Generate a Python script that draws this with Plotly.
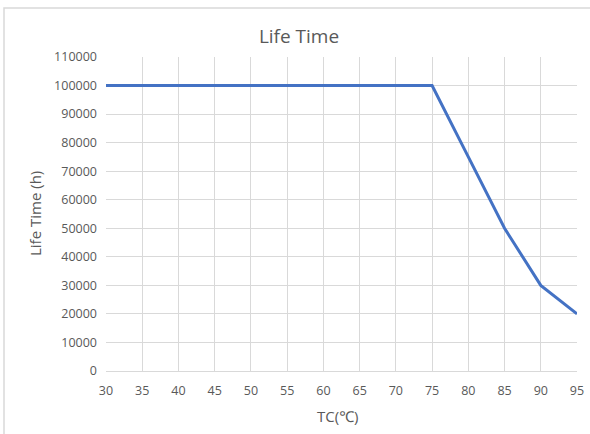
import plotly.graph_objects as go

tc = [30, 35, 40, 45, 50, 55, 60, 65, 70, 75, 80, 85, 90, 95]
life_hours = [100000, 100000, 100000, 100000, 100000, 100000, 100000, 100000, 100000, 100000, 75000, 50000, 30000, 20000]
x_ticks = list(range(30, 96, 5))
y_ticks = list(range(0, 110001, 10000))

W, H = 590, 434
L, R, T, B = 106, 13, 57, 63
pw, ph = W - L - R, H - T - B

font = "Open Sans, Noto Sans, sans-serif"
grey = "#595959"
grid = "#d9d9d9"

fig = go.Figure()
fig.add_trace(go.Scatter(x=tc, y=life_hours, mode="lines",
                         line=dict(color="#4472C4", width=3), showlegend=False))

fig.update_layout(
    width=W, height=H,
    margin=dict(l=L, r=R, t=T, b=B, autoexpand=False),
    paper_bgcolor="white", plot_bgcolor="white",
    font=dict(family=font, size=12.5, color=grey),
    title=dict(text="Life Time", x=299 / W, xanchor="center",
               y=1 - 36 / H, yanchor="middle", font=dict(size=19, color=grey)),
    xaxis=dict(range=[30, 95], tickvals=x_ticks, showgrid=True, gridcolor=grid,
               gridwidth=1, zeroline=False, showline=True, linecolor=grid,
               linewidth=1, ticks="", ticklen=0, ticklabelstandoff=8,
               tickfont=dict(size=12.5, color=grey)),
    yaxis=dict(range=[0, 110000], tickvals=y_ticks, showgrid=True, gridcolor=grid,
               gridwidth=1, zeroline=False, showline=False, ticks="",
               tickformat="d", ticklabelstandoff=8,
               tickfont=dict(size=12.5, color=grey)),
    annotations=[
        dict(text="TC(℃)", xref="paper", yref="paper",
             x=(337 - L) / pw, y=-(416 - T - ph) / ph,
             xanchor="center", yanchor="middle", showarrow=False,
             font=dict(size=15, color=grey)),
        dict(text="Life Time (h)", xref="paper", yref="paper",
             x=(35 - L) / pw, y=0.5, textangle=-90,
             xanchor="center", yanchor="middle", showarrow=False,
             font=dict(size=15, color=grey)),
    ],
)

# outer chart border (Excel-style chart area)
fig.add_shape(type="rect", xref="paper", yref="paper",
              x0=(4 - L) / pw, x1=(W + 5 - L) / pw,
              y0=-(H + 5 - T - ph) / ph, y1=1 + (T - 8) / ph,
              line=dict(color=grid, width=1.5), fillcolor="rgba(0,0,0,0)", layer="below")

fig.write_html("out.html", config={"displayModeBar": False},
               post_script="document.body.style.margin='0';")
